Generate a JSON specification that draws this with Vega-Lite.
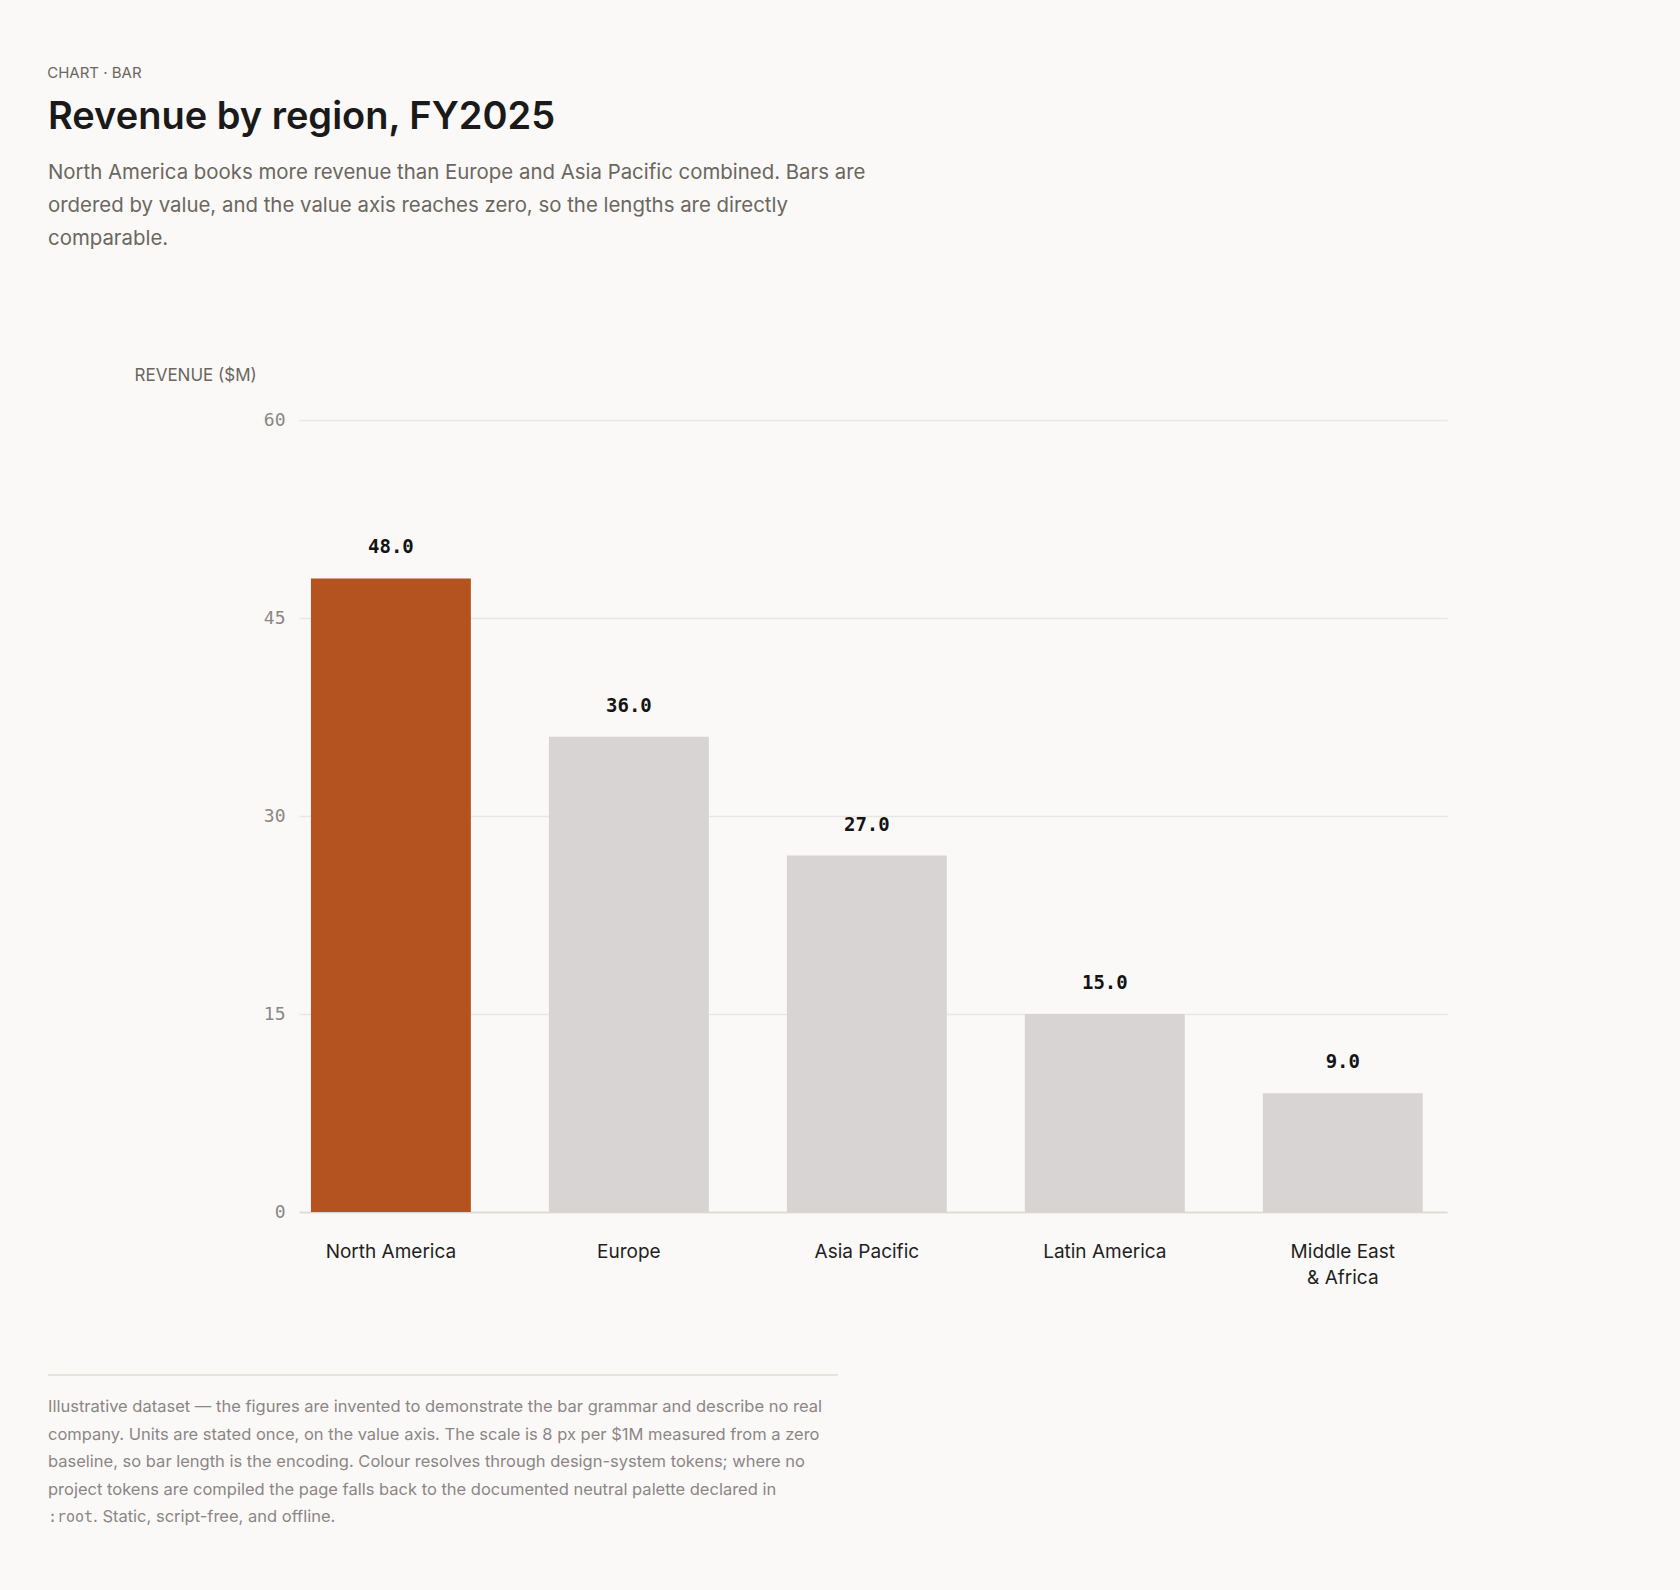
{
  "$schema": "https://vega.github.io/schema/vega-lite/v6.json",
  "background": "#faf9f7",
  "padding": {"left": 47, "top": 65, "right": 233, "bottom": 64},
  "title": {
    "text": "CHART · BAR",
    "anchor": "start",
    "font": "Inter",
    "fontSize": 15,
    "fontWeight": 400,
    "color": "#6b6760",
    "offset": 18
  },
  "config": {
    "view": {"stroke": null},
    "font": "Inter",
    "concat": {"spacing": 87}
  },
  "columns": 1,
  "align": "none",
  "concat": [
    {
      "width": 1148,
      "height": 792,
      "title": {
        "text": "Revenue by region, FY2025",
        "subtitle": [
          "North America books more revenue than Europe and Asia Pacific combined. Bars are",
          "ordered by value, and the value axis reaches zero, so the lengths are directly",
          "comparable."
        ],
        "anchor": "start",
        "frame": "group",
        "dx": -251,
        "font": "Inter",
        "fontSize": 38,
        "fontWeight": 600,
        "color": "#1a1a1a",
        "subtitleFont": "Inter",
        "subtitleFontSize": 20.4,
        "subtitleColor": "#6b6760",
        "subtitleLineHeight": 33,
        "subtitlePadding": 26,
        "offset": 117
      },
      "data": {
        "values": [
          {"region": "North America", "revenue": 48},
          {"region": "Europe", "revenue": 36},
          {"region": "Asia Pacific", "revenue": 27},
          {"region": "Latin America", "revenue": 15},
          {"region": "Middle East & Africa", "revenue": 9}
        ]
      },
      "encoding": {
        "x": {
          "field": "region",
          "type": "nominal",
          "sort": "-y",
          "scale": {"paddingInner": 0.328, "paddingOuter": 0.076, "align": 0.33},
          "axis": {
            "title": null,
            "labelAngle": 0,
            "labelFont": "Inter",
            "labelFontSize": 19,
            "labelColor": "#1f1f1f",
            "labelPadding": 30,
            "labelLineHeight": 26,
            "labelExpr": "datum.value == 'Middle East & Africa' ? ['Middle East', '& Africa'] : datum.label",
            "ticks": false,
            "domainColor": "#dcd8d2",
            "domainWidth": 1.5
          }
        },
        "y": {
          "field": "revenue",
          "type": "quantitative",
          "scale": {"domain": [0, 60]},
          "axis": {
            "values": [0, 15, 30, 45, 60],
            "title": "REVENUE ($M)",
            "titleAngle": 0,
            "titleAlign": "left",
            "titleBaseline": "alphabetic",
            "titleX": -165,
            "titleY": -40,
            "titleFont": "Inter",
            "titleFontSize": 17,
            "titleFontWeight": 400,
            "titleColor": "#6b6760",
            "labelFont": "DejaVu Sans Mono",
            "labelFontSize": 18,
            "labelColor": "#8c8686",
            "labelPadding": 14,
            "ticks": false,
            "domain": false,
            "gridColor": "#e9e7e3",
            "gridWidth": 1.5
          }
        }
      },
      "layer": [
        {
          "mark": {"type": "bar"},
          "encoding": {
            "color": {
              "condition": {"test": "datum.region == 'North America'", "value": "#b45320"},
              "value": "#d8d4d4"
            }
          }
        },
        {
          "mark": {
            "type": "text",
            "baseline": "alphabetic",
            "dy": -25,
            "font": "DejaVu Sans Mono",
            "fontSize": 19,
            "fontWeight": "bold",
            "color": "#141414"
          },
          "encoding": {
            "text": {"field": "revenue", "type": "quantitative", "format": ".1f"}
          }
        }
      ]
    },
    {
      "width": 790,
      "height": 137.5,
      "data": {
        "values": [
          {"line": 1, "part": "body", "text": "Illustrative dataset — the figures are invented to demonstrate the bar grammar and describe no real"},
          {"line": 2, "part": "body", "text": "company. Units are stated once, on the value axis. The scale is 8 px per $1M measured from a zero"},
          {"line": 3, "part": "body", "text": "baseline, so bar length is the encoding. Colour resolves through design-system tokens; where no"},
          {"line": 4, "part": "body", "text": "project tokens are compiled the page falls back to the documented neutral palette declared in"},
          {"line": 5, "part": "code", "text": ":root"},
          {"line": 5, "part": "tail", "text": ". Static, script-free, and offline."}
        ]
      },
      "layer": [
        {
          "mark": {"type": "rule", "color": "#e6e3de", "strokeWidth": 1.5},
          "encoding": {
            "x": {"datum": 0, "type": "quantitative", "scale": {"domain": [0, 1], "range": [-251, 539]}, "axis": null},
            "x2": {"datum": 1},
            "y": {"datum": 0, "type": "quantitative", "scale": {"domain": [0, 5], "reverse": true}, "axis": null}
          }
        },
        {
          "transform": [{"filter": "datum.part == 'body'"}],
          "mark": {"type": "text", "align": "left", "baseline": "middle", "dy": 4.5, "font": "Inter", "fontSize": 16.5, "color": "#8c8686"},
          "encoding": {
            "x": {"datum": 0, "type": "quantitative"},
            "y": {"field": "line", "type": "quantitative"},
            "text": {"field": "text"}
          }
        },
        {
          "transform": [{"filter": "datum.part == 'code'"}],
          "mark": {"type": "text", "align": "left", "baseline": "middle", "dy": 4.5, "font": "DejaVu Sans Mono", "fontSize": 15, "color": "#8c8686"},
          "encoding": {
            "x": {"datum": 0, "type": "quantitative"},
            "y": {"field": "line", "type": "quantitative"},
            "text": {"field": "text"}
          }
        },
        {
          "transform": [{"filter": "datum.part == 'tail'"}],
          "mark": {"type": "text", "align": "left", "baseline": "middle", "dy": 4.5, "dx": 45, "font": "Inter", "fontSize": 16.5, "color": "#8c8686"},
          "encoding": {
            "x": {"datum": 0, "type": "quantitative"},
            "y": {"field": "line", "type": "quantitative"},
            "text": {"field": "text"}
          }
        }
      ]
    }
  ]
}
